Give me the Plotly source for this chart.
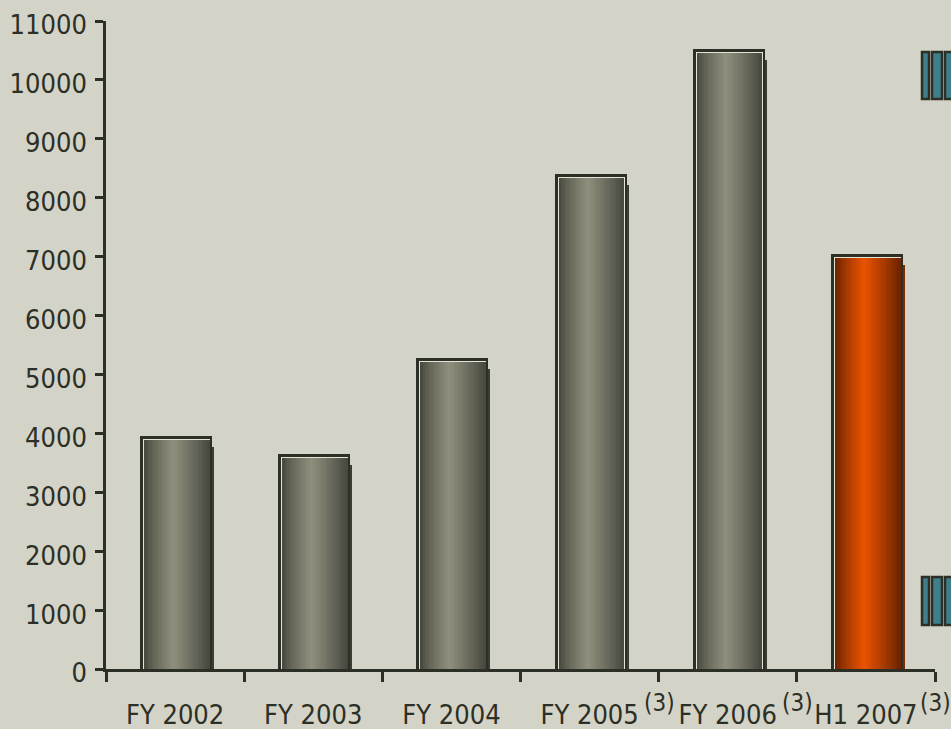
import plotly.graph_objects as go

# ---- data ----
categories = ["FY 2002", "FY 2003", "FY 2004", "FY 2005", "FY 2006", "H1 2007"]
values = [3960, 3650, 5280, 8400, 10530, 7050]
footnotes = ["", "", "", "(3)", "(3)", "(3)"]
y_ticks = list(range(0, 12000, 1000))

# ---- style ----
BG = "#d3d3c7"
INK = "#2c2f26"
FONT = "Liberation Sans Narrow, DejaVu Sans Condensed, Arial Narrow, sans-serif"
W, H = 951, 729
ML, MR, MT, MB = 106, 16, 21, 60
PW, PH = W - ML - MR, H - MT - MB
YMAX = 11000
CAT_PX = PW / len(categories)          # pixels per category
U_PX = YMAX / PH                        # data units per pixel


def cx(px):   # pixel width -> category units
    return px / CAT_PX


def hexmix(a, b, t):
    a = [int(a[i:i + 2], 16) for i in (1, 3, 5)]
    b = [int(b[i:i + 2], 16) for i in (1, 3, 5)]
    return "#%02x%02x%02x" % tuple(round(a[i] + (b[i] - a[i]) * t) for i in range(3))


gray = dict(left="#43443a", center="#8f8f7d", right="#45463c", shadow="#3b3d33")
orange = dict(left="#5e1d00", center="#e95300", right="#6a2300", shadow="#7c2c00")
palettes = [gray] * 5 + [orange]

fig = go.Figure()

# shadow (right / bottom)
fig.add_trace(go.Bar(
    x=categories, y=[v - 7 * U_PX for v in values], base=-4 * U_PX,
    offset=cx(-32), width=cx(71),
    marker=dict(color=[p["shadow"] for p in palettes], line=dict(width=0)),
    hoverinfo="skip"))
# dark outline
fig.add_trace(go.Bar(
    x=categories, y=[v + 3 * U_PX for v in values], base=-3 * U_PX,
    offset=cx(-35), width=cx(72),
    marker=dict(color=INK, line=dict(width=0)), hoverinfo="skip"))
# light highlight line (top / left)
fig.add_trace(go.Bar(
    x=categories, y=[v - 3 * U_PX for v in values], base=0,
    offset=cx(-32), width=cx(67),
    marker=dict(color="#e4e4d6", line=dict(width=0)), hoverinfo="skip"))

# cylindrical gradient as thin strips
N = 26
x0, x1 = -31.0, 34.0
sw = (x1 - x0) / N
for i in range(N):
    t = (i + 0.5) / N
    cols = []
    for p in palettes:
        if t < 0.45:
            f = (t / 0.45) ** 0.75
            cols.append(hexmix(p["left"], p["center"], f))
        else:
            f = ((1 - t) / 0.55) ** 0.9
            cols.append(hexmix(p["right"], p["center"], f))
    fig.add_trace(go.Bar(
        x=categories, y=[v - 4 * U_PX for v in values], base=0,
        offset=cx(x0 + i * sw), width=cx(sw + 0.6),
        marker=dict(color=cols, line=dict(width=0)), hoverinfo="skip"))

# footnote superscripts
for c, fn in zip(categories, footnotes):
    if fn:
        fig.add_annotation(x=c, y=0, xref="x", yref="paper", text=fn,
                           showarrow=False, xshift=70, yshift=-34,
                           yanchor="middle", xanchor="center",
                           font=dict(family=FONT, size=24, color=INK))

# decorative teal markers on the right edge
def px_x(p):
    return (p - ML) / PW


def px_y(p):
    return (H - MB - p) / PH


for top, bot in [(52, 99), (577, 625)]:
    for l, r in [(922, 929), (932, 942), (945, 956)]:
        fig.add_shape(type="rect", xref="paper", yref="paper",
                      x0=px_x(l), x1=px_x(r), y0=px_y(bot), y1=px_y(top),
                      fillcolor="#3f7f8b", line=dict(color=INK, width=2.5))

fig.update_layout(
    width=W, height=H, barmode="overlay", showlegend=False,
    paper_bgcolor=BG, plot_bgcolor=BG,
    margin=dict(l=ML, r=MR, t=MT, b=MB, autoexpand=False),
    font=dict(family=FONT, size=27, color=INK),
    bargap=0,
)
fig.update_xaxes(
    type="category", range=[-0.5, len(categories) - 0.5],
    showline=True, linecolor=INK, linewidth=2.5,
    ticks="outside", tickson="boundaries", ticklen=10, tickwidth=2.5,
    tickcolor=INK, showgrid=False, ticklabelstandoff=20, automargin=False,
    tickfont=dict(family=FONT, size=27, color=INK), fixedrange=True)
fig.update_yaxes(
    range=[0, YMAX], tickvals=y_ticks, tickformat="d", showline=True,
    linecolor=INK, linewidth=2.5, ticks="outside", ticklen=8, tickwidth=2.5,
    tickcolor=INK, showgrid=False, zeroline=False, ticklabelstandoff=3,
    ticklabelshift=4, automargin=False,
    tickfont=dict(family=FONT, size=27, color=INK), fixedrange=True)

fig.write_html(
    "out.html",
    config={"displayModeBar": False},
    post_script="document.body.style.margin='0';document.body.style.overflow='hidden';",
)
